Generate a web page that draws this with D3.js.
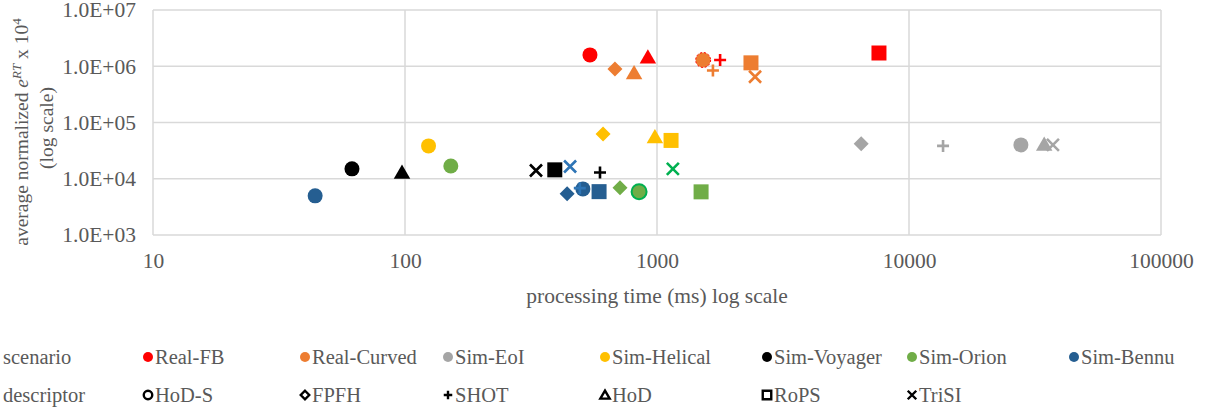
<!DOCTYPE html>
<html>
<head>
<meta charset="utf-8">
<script src="https://cdn.jsdelivr.net/npm/d3@7/dist/d3.min.js"></script>
<style>
  html, body { margin: 0; padding: 0; background: #fff; }
  svg { display: block; font-family: "Liberation Serif", "Times New Roman", serif; }
</style>
</head>
<body>
<svg id="chart" width="1209" height="414"></svg>
<script>
// Scenarios and descriptors
const scenarios = ["Real-FB", "Real-Curved", "Sim-EoI", "Sim-Helical", "Sim-Voyager", "Sim-Orion", "Sim-Bennu"];
const scenarioColors = ["#FF0000", "#ED7D31", "#A5A5A5", "#FFC000", "#000000", "#70AD47", "#255E91"];
const descriptors = ["HoD-S", "FPFH", "SHOT", "HoD", "RoPS", "TriSI"];

// Axis ticks
const xTicks = [10, 100, 1000, 10000, 100000];
const yTicks = [1e3, 1e4, 1e5, 1e6, 1e7];

// [descriptor, processing time (ms), average normalized e^RT x 10^4]
const realFB = [
  ["HoD-S", 542, 1.59e6],
  ["HoD", 920, 1.46e6],
  ["SHOT", 1780, 1.29e6],
  ["RoPS", 7600, 1.72e6]
];
const realCurved = [
  ["FPFH", 681, 8.96e5],
  ["HoD", 811, 7.6e5],
  ["HoD-S", 1524, 1.29e6],
  ["SHOT", 1667, 8.4e5],
  ["RoPS", 2360, 1.15e6],
  ["TriSI", 2450, 6.5e5]
];
const simEoI = [
  ["FPFH", 6460, 4.17e4],
  ["SHOT", 13650, 3.84e4],
  ["HoD-S", 27800, 4.0e4],
  ["HoD", 34400, 4.1e4],
  ["TriSI", 37250, 4.0e4]
];
const simHelical = [
  ["HoD-S", 124, 3.84e4],
  ["FPFH", 611, 6.27e4],
  ["HoD", 981, 5.55e4],
  ["RoPS", 1137, 4.8e4]
];
const simVoyager = [
  ["HoD-S", 61.6, 1.5e4],
  ["HoD", 97.3, 1.3e4],
  ["TriSI", 331, 1.4e4],
  ["RoPS", 393, 1.44e4],
  ["SHOT", 594, 1.29e4]
];
const simOrion = [
  ["HoD-S", 152, 1.69e4],
  ["FPFH", 713, 6.9e3],
  ["HoD-S", 849, 5.9e3],
  ["TriSI", 1156, 1.5e4],
  ["RoPS", 1496, 5.85e3]
];
const simBennu = [
  ["HoD-S", 44, 4.97e3],
  ["TriSI", 452, 1.65e4],
  ["FPFH", 440, 5.4e3],
  ["HoD-S", 508, 6.6e3],
  ["SHOT", 494, 6.8e3],
  ["RoPS", 589, 5.9e3]
];
const seriesData = [realFB, realCurved, simEoI, simHelical, simVoyager, simOrion, simBennu];

// Individually recoloured markers: "scenario|descriptor|index" -> [fill, stroke]
const markerOverrides = {
  "Sim-Orion|TriSI|3": ["#00B050", null],
  "Sim-Orion|HoD-S|2": ["#70AD47", "#00B050"],
  "Sim-Bennu|TriSI|1": ["#2E75B6", null],
  "Sim-Bennu|SHOT|4": ["#2E75B6", null],
  "Real-Curved|HoD-S|2": ["#ED7D31", "#FF0000"]
};

const svg = d3.select("#chart");
const margin = { left: 153, right: 1161, top: 10, bottom: 235 };

const x = d3.scaleLog().domain([10, 100000]).range([margin.left, margin.right]);
const y = d3.scaleLog().domain([1e3, 1e7]).range([margin.bottom, margin.top]);

const textColor = "#595959";
const gridColor = "#D9D9D9";
const axisFont = "21.5px";
const yTitleFont = "19.5px";
const legendFont = "20.5px";

// Gridlines
svg.append("g").selectAll("line.h").data(yTicks).join("line")
  .attr("x1", margin.left).attr("x2", margin.right)
  .attr("y1", d => y(d)).attr("y2", d => y(d))
  .attr("stroke", gridColor).attr("stroke-width", 1.5);
svg.append("g").selectAll("line.v").data(xTicks).join("line")
  .attr("x1", d => x(d)).attr("x2", d => x(d))
  .attr("y1", margin.top).attr("y2", margin.bottom)
  .attr("stroke", gridColor).attr("stroke-width", 1.5);

// Axes (labels only, lines drawn as gridlines)
const xAxis = d3.axisBottom(x).tickValues(xTicks).tickSize(0).tickPadding(18).tickFormat(d3.format("d"));
const gx = svg.append("g").attr("transform", `translate(0,${margin.bottom})`).call(xAxis);
gx.select(".domain").remove();
gx.selectAll("text").attr("fill", textColor).style("font-size", axisFont).style("font-family", "Liberation Serif");

const yAxis = d3.axisLeft(y).tickValues(yTicks).tickSize(0).tickPadding(17)
  .tickFormat(d => "1.0E+" + String(Math.round(Math.log10(d))).padStart(2, "0"));
const gy = svg.append("g").attr("transform", `translate(${margin.left},0)`).call(yAxis);
gy.select(".domain").remove();
gy.selectAll("text").attr("fill", textColor).style("font-size", axisFont).style("font-family", "Liberation Serif");

// Axis titles
svg.append("text")
  .attr("x", (margin.left + margin.right) / 2).attr("y", 303)
  .attr("text-anchor", "middle").attr("fill", textColor).style("font-size", axisFont)
  .text("processing time (ms) log scale");

const yt = svg.append("text")
  .attr("transform", "translate(28,132) rotate(-90)")
  .attr("text-anchor", "middle").attr("fill", textColor).style("font-size", yTitleFont);
yt.append("tspan").text("average normalized ");
yt.append("tspan").attr("font-style", "italic").text("e");
yt.append("tspan").attr("font-style", "italic").attr("baseline-shift", "super").style("font-size", "13px").text("RT");
yt.append("tspan").text(" x 10");
yt.append("tspan").attr("baseline-shift", "super").style("font-size", "13px").text("4");
svg.append("text")
  .attr("transform", "translate(53,128) rotate(-90)")
  .attr("text-anchor", "middle").attr("fill", textColor).style("font-size", yTitleFont)
  .text("(log scale)");

// Marker shapes
function shapePath(desc, s) {
  const h = s / 2;
  switch (desc) {
    case "HoD-S": return d3.symbol(d3.symbolCircle, Math.PI * h * h)();
    case "FPFH": return `M0,${-h}L${h},0L0,${h}L${-h},0Z`;
    case "HoD": return `M0,${-h * 1.05}L${h * 1.1},${h * 0.85}L${-h * 1.1},${h * 0.85}Z`;
    case "RoPS": return `M${-h},${-h}H${h}V${h}H${-h}Z`;
    case "SHOT": return `M${-h},0H${h}M0,${-h}V${h}`;
    case "TriSI": return `M${-h},${-h}L${h},${h}M${h},${-h}L${-h},${h}`;
  }
}
const lineShape = d => d === "SHOT" || d === "TriSI";
const markerSize = { "HoD-S": 15, "FPFH": 15, "HoD": 15, "RoPS": 15, "SHOT": 12, "TriSI": 12 };

const plot = svg.append("g");
seriesData.forEach((pts, si) => {
  const name = scenarios[si];
  const color = scenarioColors[si];
  plot.append("g").selectAll("path").data(pts).join("path")
    .attr("transform", p => `translate(${x(p[1])},${y(p[2])})`)
    .attr("d", p => shapePath(p[0], markerSize[p[0]]))
    .each(function (p, i) {
      const ov = markerOverrides[`${name}|${p[0]}|${i}`];
      const c = ov ? ov[0] : color;
      const sel = d3.select(this);
      if (lineShape(p[0])) {
        sel.attr("fill", "none").attr("stroke", c).attr("stroke-width", 2.6);
      } else {
        sel.attr("fill", c);
        if (ov && ov[1]) {
          sel.attr("stroke", ov[1]).attr("stroke-width", 2);
          if (name === "Real-Curved") sel.attr("stroke-dasharray", "2,2").attr("stroke-width", 1);
        }
      }
    });
});

// Legend
const legendCols = [148, 305, 448, 605, 767, 912, 1074];
const row1 = 357, row2 = 395;
svg.append("text").attr("x", 3).attr("y", row1).attr("dy", "0.35em")
  .attr("fill", textColor).style("font-size", legendFont).text("scenario");
svg.append("text").attr("x", 3).attr("y", row2).attr("dy", "0.35em")
  .attr("fill", textColor).style("font-size", legendFont).text("descriptor");

const lg1 = svg.append("g").selectAll("g").data(scenarios).join("g")
  .attr("transform", (d, i) => `translate(${legendCols[i]},${row1})`);
lg1.append("circle").attr("r", 5).attr("fill", (d, i) => scenarioColors[i]);
lg1.append("text").attr("x", 7).attr("dy", "0.35em").attr("fill", textColor)
  .style("font-size", legendFont).text(d => d);

const lg2 = svg.append("g").selectAll("g").data(descriptors).join("g")
  .attr("transform", (d, i) => `translate(${legendCols[i]},${row2})`);
lg2.append("path").attr("d", d => shapePath(d, 8.5))
  .attr("fill", "none").attr("stroke", "#000").attr("stroke-width", 2.4);
lg2.append("text").attr("x", 7).attr("dy", "0.35em").attr("fill", textColor)
  .style("font-size", legendFont).text(d => d);
</script>
</body>
</html>
